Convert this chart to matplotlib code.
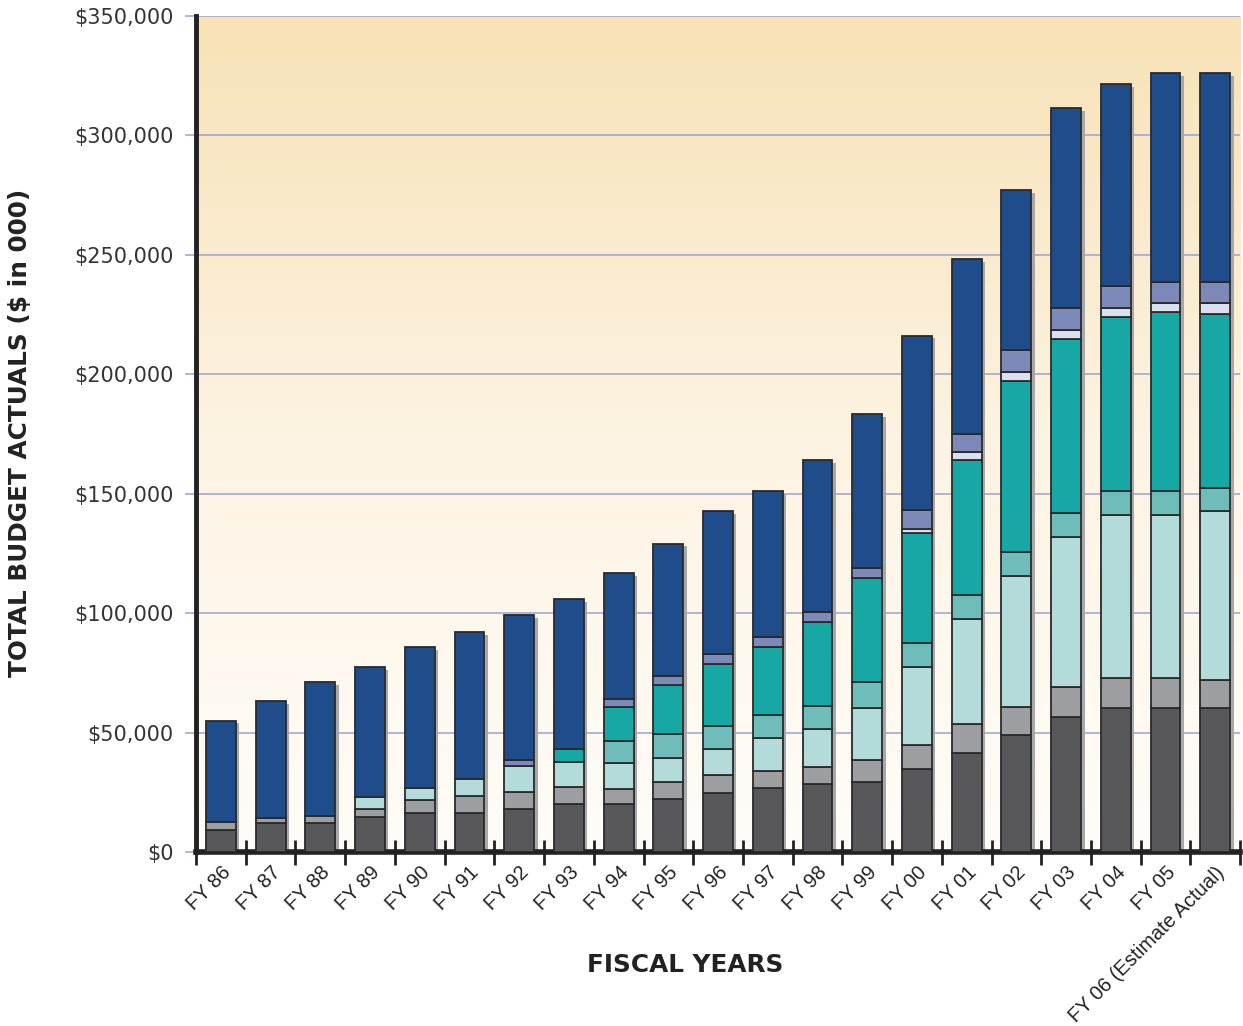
#!/usr/bin/env python3
"""Stacked bar chart of total budget actuals by fiscal year."""

import matplotlib
matplotlib.use("Agg")
import matplotlib.pyplot as plt
import numpy as np
from matplotlib.colors import LinearSegmentedColormap

years = ["FY 86", "FY 87", "FY 88", "FY 89", "FY 90", "FY 91", "FY 92",
         "FY 93", "FY 94", "FY 95", "FY 96", "FY 97", "FY 98", "FY 99",
         "FY 00", "FY 01", "FY 02", "FY 03", "FY 04", "FY 05",
         "FY 06 (Estimate Actual)"]

# segment values in $000, bottom to top
dark_gray = [9200, 12100, 12100, 14500, 16300, 16300, 18100, 20100, 20200, 22000,
             24800, 26700, 28600, 29400, 34900, 41400, 48900, 56500, 60100, 60100, 60100]
mid_gray = [3200, 2100, 2800, 3400, 5300, 7000, 7100, 7000, 6100, 7300,
            7300, 7200, 7100, 9100, 9900, 12200, 12000, 12700, 12800, 12800, 11900]
pale_teal = [0, 0, 0, 5300, 5000, 7100, 10600, 10700, 10900, 9900,
             10900, 13700, 15600, 21800, 32800, 44100, 54500, 62800, 68300, 68300, 70900]
mid_teal = [0, 0, 0, 0, 0, 0, 0, 0, 9100, 10100,
            9900, 9900, 9800, 11000, 10100, 10100, 10100, 10100, 10100, 10100, 9400]
teal = [0, 0, 0, 0, 0, 0, 0, 5200, 14200, 20800,
        25700, 28300, 35000, 43300, 45900, 56400, 71700, 72700, 72700, 74800, 72900]
lavender = [0, 0, 0, 0, 0, 0, 0, 0, 0, 0,
            0, 0, 0, 0, 1800, 3400, 3700, 3700, 3700, 3600, 4500]
slate = [0, 0, 0, 0, 0, 0, 2900, 0, 3500, 3500,
         4200, 4300, 4200, 4200, 7800, 7500, 9300, 9300, 9300, 9100, 9100]
dark_blue = [42600, 49000, 56100, 54400, 59200, 61500, 60600, 62800, 52700, 55500,
             60000, 60900, 63800, 64600, 73000, 73000, 67000, 83800, 84500, 87300, 87300]

series = [dark_gray, mid_gray, pale_teal, mid_teal, teal, lavender, slate, dark_blue]
colors = ["#58585a", "#9d9ea1", "#b3dbd9", "#6fbdbb", "#17a8a5",
          "#dcdfee", "#7d89b9", "#1f4c8a"]

plt.rcParams["font.family"] = ["DejaVu Sans"]

fig = plt.figure(figsize=(12.43, 10.26), dpi=100)
ax = fig.add_axes([0.1577, 0.1696, 0.84, 0.8148])

x = np.arange(len(years))
width = 0.6
totals = np.sum(np.array(series), axis=0)

# background gradient
grad = LinearSegmentedColormap.from_list("bg", ["#fffdf9", "#fdf3e2", "#f8e2b6"])
ax.imshow(np.linspace(0, 1, 256).reshape(-1, 1), cmap=grad, aspect="auto",
          extent=(-0.5, 20.5, 0, 350000), origin="lower", zorder=0)

# shadows
ax.bar(x + 0.07, totals - 1200, width, bottom=0, color="#a8a8a8",
       edgecolor="none", zorder=2)

bottom = np.zeros(len(years))
for vals, col in zip(series, colors):
    vals = np.array(vals)
    mask = vals > 0
    ax.bar(x[mask], vals[mask], width, bottom=bottom[mask], color=col,
           edgecolor="#2a2a2a", linewidth=1.3, zorder=3)
    bottom += vals

ax.set_xlim(-0.5, 20.5)
ax.set_ylim(0, 350000)
ax.set_yticks(np.arange(0, 350001, 50000))
ax.set_yticklabels([f"${v:,.0f}" for v in np.arange(0, 350001, 50000)],
                   fontsize=15, color="#333333")
ax.grid(axis="y", color="#9aa3cf", linewidth=1.1, zorder=1)
ax.set_axisbelow(True)
ax.tick_params(axis="y", length=8, color="#9aa3cf", width=1.1, pad=8)

ax.set_xticks(x)
ax.set_xticklabels(years, rotation=45, ha="right", rotation_mode="anchor",
                   fontsize=14.5, color="#222222",
                   family=["Liberation Sans", "DejaVu Sans"])
ax.tick_params(axis="x", length=0, pad=8)
ax.set_xticks(np.arange(-0.5, 21, 1), minor=True)
ax.tick_params(axis="x", which="minor", direction="inout", length=18,
               width=2, color="#222222")

for side in ["top", "right"]:
    ax.spines[side].set_visible(False)
ax.spines["left"].set_linewidth(3.5)
ax.spines["left"].set_color("#222222")
ax.spines["bottom"].set_linewidth(4)
ax.spines["bottom"].set_color("#222222")

fig.text(685 / 1243, 1 - 965 / 1026, "FISCAL YEARS", fontsize=17.8,
         fontweight="bold", color="#222222", ha="center", va="center")
fig.text(20 / 1243, 1 - 433 / 1026, "TOTAL BUDGET ACTUALS ($ in 000)",
         fontsize=17.8, fontweight="bold", color="#222222", rotation=90,
         ha="center", va="center")

fig.savefig("out.png", dpi=100)
